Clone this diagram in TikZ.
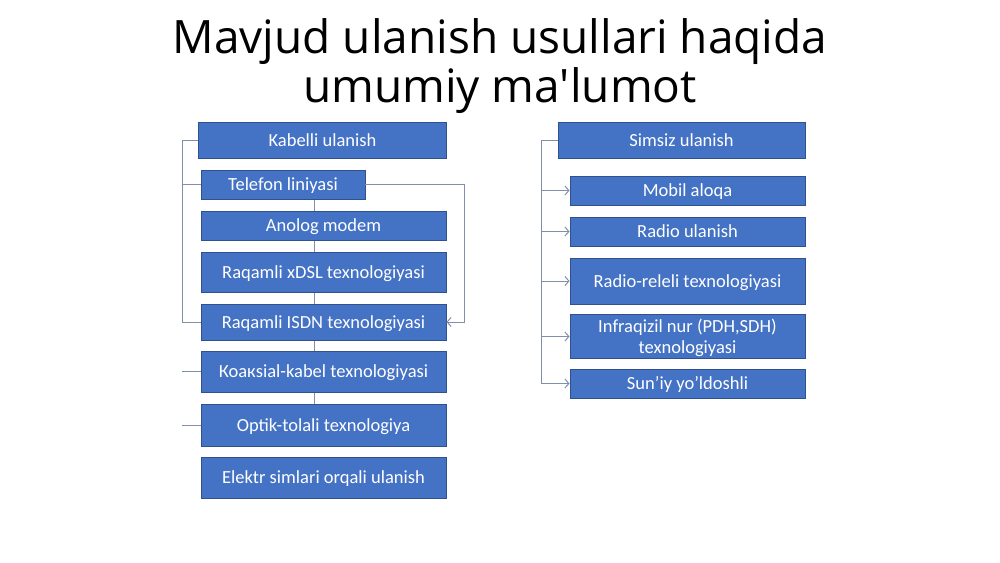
\documentclass[tikz,border=0pt]{standalone}
\usepackage{fontspec}
\setmainfont{Carlito}
\newfontfamily\titlefont{Open Sans}[Ligatures=TeXOff]
\usetikzlibrary{arrows.meta,backgrounds}
\definecolor{boxfill}{HTML}{4472C4}
\definecolor{boxline}{HTML}{2F528F}
\definecolor{connc}{RGB}{128,143,172}
\tikzset{
  bluebox/.style={draw=boxline, line width=0.9pt, fill=boxfill, text=white,
    font=\fontsize{18.5}{21}\selectfont, inner sep=0pt, align=center,
    text height=17.6pt, text depth=5pt},
  conn/.style={draw=connc, line width=1pt},
  arr/.style={conn, -{Straight Barb[length=4pt,width=9pt,line width=1pt]}},
  titletext/.style={font=\titlefont\fontsize{46}{50}\selectfont, inner sep=0pt, anchor=base}
}
\begin{document}
\begin{tikzpicture}[x=1pt,y=-1pt]
\useasboundingbox (0,0) rectangle (1000,562);
% title
\node[titletext] (t1) at (500,53) {Mavjud ulanish usullari haqida};
\node[titletext] (t2) at (500,102) {umumiy ma'lumot};
% left column
\node[bluebox, minimum width=248pt, minimum height=36pt] (kab) at (322.5,140) {Kabelli ulanish};
\node[bluebox, minimum width=164pt, minimum height=29pt] (tel) at (283,184.5) {Telefon liniyasi};
\node[bluebox, minimum width=245pt, minimum height=29pt] (ano) at (323.5,225.5) {Anolog modem};
\node[bluebox, minimum width=245pt, minimum height=40pt] (xdsl) at (323.5,272) {Raqamli xDSL texnologiyasi};
\node[bluebox, minimum width=245pt, minimum height=36pt] (isdn) at (323.5,322) {Raqamli ISDN texnologiyasi};
\node[bluebox, minimum width=245pt, minimum height=41pt] (koax) at (323.5,371.5) {Коакsial-kabel texnologiyasi};
\node[bluebox, minimum width=245pt, minimum height=42pt] (opt) at (323.5,425) {Optik-tolali texnologiya};
\node[bluebox, minimum width=245pt, minimum height=41pt] (elek) at (323.5,477.5) {Elektr simlari orqali ulanish};
% right column
\node[bluebox, minimum width=247pt, minimum height=36pt] (sim) at (681.5,140) {Simsiz ulanish};
\node[bluebox, minimum width=235pt, minimum height=29pt] (mob) at (687.5,190.5) {Mobil aloqa};
\node[bluebox, minimum width=235pt, minimum height=29pt] (rad) at (687.5,231.5) {Radio ulanish};
\node[bluebox, minimum width=235pt, minimum height=46pt] (rr) at (687.5,281) {Radio-releli texnologiyasi};
\node[bluebox, minimum width=235pt, minimum height=41pt,
      text height=38.6pt, text depth=5pt] (inf) at (687.5,336.5) {Infraqizil nur (PDH,SDH)\\texnologiyasi};
\node[bluebox, minimum width=235pt, minimum height=29pt] (sun) at (687.5,383.5) {Sun’iy yo’ldoshli};
% guide coordinates
\coordinate (L) at (182,0);
\coordinate (V) at (314,0);
\coordinate (R) at (464,0);
\coordinate (RL) at (541,0);
% connectors
\begin{pgfonlayer}{background}
\fill[white] (0,0) rectangle (1000,562);
\draw[conn] (tel.south -| V) -- (opt.north -| V);
\end{pgfonlayer}
\draw[conn] (kab.west) -- (kab.west -| L) -- (isdn.west -| L) -- (isdn.west);
\draw[conn] (tel.west -| L) -- (tel.west);
\draw[conn] (koax.west -| L) -- (koax.west);
\draw[conn] (opt.west -| L) -- (opt.west);
\draw[arr] (tel.east) -- (tel.east -| R) |- (isdn.east);
\draw[conn] (sim.west) -- (sim.west -| RL) -- (sun.west -| RL);
\draw[arr] (mob.west -| RL) -- (mob.west);
\draw[arr] (rad.west -| RL) -- (rad.west);
\draw[arr] (rr.west -| RL) -- (rr.west);
\draw[arr] (inf.west -| RL) -- (inf.west);
\draw[arr] (sun.west -| RL) -- (sun.west);
\end{tikzpicture}
\end{document}
